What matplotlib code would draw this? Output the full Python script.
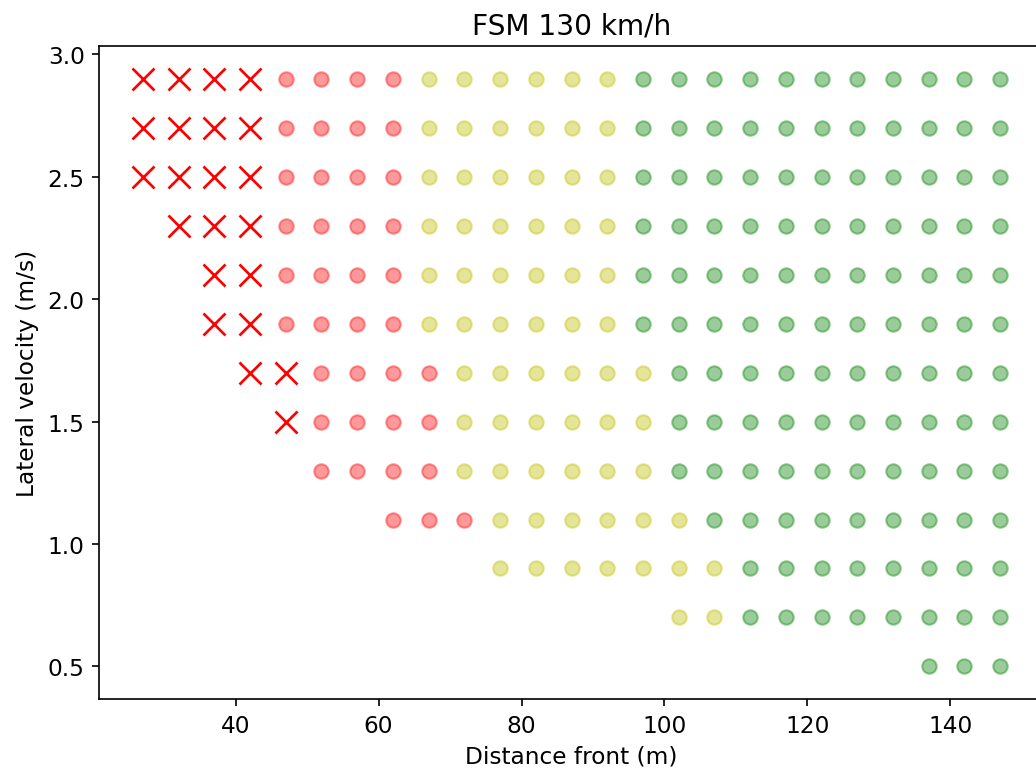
import matplotlib
matplotlib.use("Agg")
import matplotlib.pyplot as plt

plt.rcParams["font.size"] = 11.2

# Data
distances = [27, 32, 37, 42, 47, 52, 57, 62, 67, 72, 77, 82, 87, 92, 97,
             102, 107, 112, 117, 122, 127, 132, 137, 142, 147]
velocities = [2.9, 2.7, 2.5, 2.3, 2.1, 1.9, 1.7, 1.5, 1.3, 1.1, 0.9, 0.7, 0.5]
# Outcome per (velocity row, distance column):
# X = collision, R = red, Y = yellow, G = green, . = no point
outcomes = [
    "XXXXRRRRYYYYYYGGGGGGGGGGG",  # 2.9
    "XXXXRRRRYYYYYYGGGGGGGGGGG",  # 2.7
    "XXXXRRRRYYYYYYGGGGGGGGGGG",  # 2.5
    ".XXXRRRRYYYYYYGGGGGGGGGGG",  # 2.3
    "..XXRRRRYYYYYYGGGGGGGGGGG",  # 2.1
    "..XXRRRRYYYYYYGGGGGGGGGGG",  # 1.9
    "...XXRRRRYYYYYYGGGGGGGGGG",  # 1.7
    "....XRRRRYYYYYYGGGGGGGGGG",  # 1.5
    ".....RRRRYYYYYYGGGGGGGGGG",  # 1.3
    ".......RRRYYYYYYGGGGGGGGG",  # 1.1
    "..........YYYYYYYGGGGGGGG",  # 0.9
    "...............YYGGGGGGGG",  # 0.7
    "......................GGG",  # 0.5
]
colors = {"R": "r", "Y": "y", "G": "g"}

fig = plt.figure(figsize=(1036 / 150, 776 / 150), dpi=150)
ax = fig.add_axes([99.3 / 1036, (776 - 700) / 776, (1043 - 99.3) / 1036, (700 - 46.7) / 776])

for v, row in zip(velocities, outcomes):
    for d, code in zip(distances, row):
        if code == "X":
            ax.plot([d], [v], "x", color="red", markersize=10.5, markeredgewidth=1.3)
        elif code in colors:
            ax.scatter([d], [v], color=colors[code], alpha=0.4, s=48)

ax.set_xlim(20.9, 153.0)
ax.set_ylim(0.367, 3.035)
ax.set_xlabel("Distance front (m)")
ax.set_ylabel("Lateral velocity (m/s)")
ax.set_title("FSM 130 km/h")

fig.savefig("out.png", dpi=150)
